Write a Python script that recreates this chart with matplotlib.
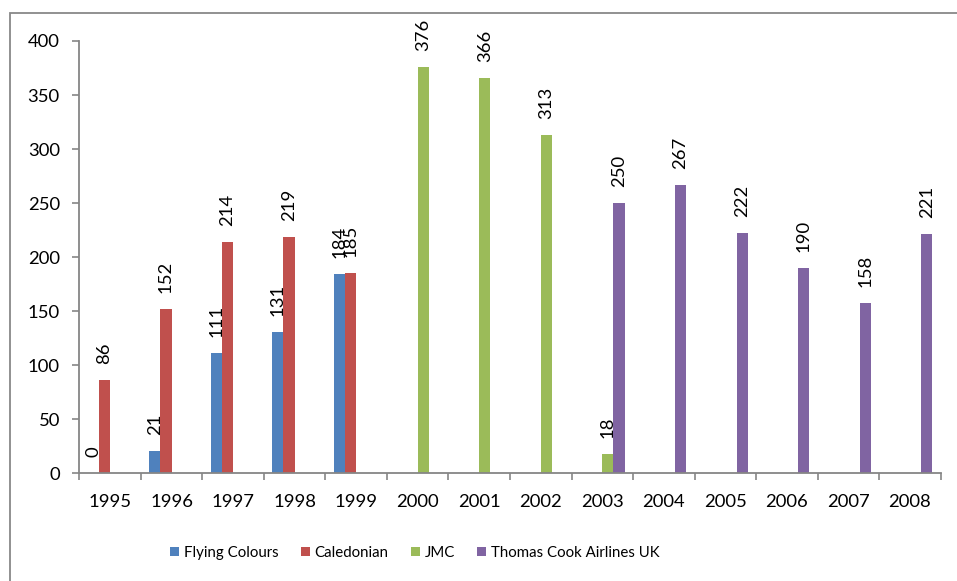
import numpy as np
import matplotlib
matplotlib.use("Agg")
import matplotlib.pyplot as plt
from matplotlib.patches import Rectangle, Patch

plt.rcParams['font.family'] = ['Lato', 'DejaVu Sans']

years = ['1995', '1996', '1997', '1998', '1999', '2000', '2001',
         '2002', '2003', '2004', '2005', '2006', '2007', '2008']
series_names = ['Flying Colours', 'Caledonian', 'JMC', 'Thomas Cook Airlines UK']
nan = np.nan
flying_colours = [0, 21, 111, 131, 184, nan, nan, nan, nan, nan, nan, nan, nan, nan]
caledonian = [86, 152, 214, 219, 185, nan, nan, nan, nan, nan, nan, nan, nan, nan]
jmc = [nan, nan, nan, nan, nan, 376, 366, 313, 18, nan, nan, nan, nan, nan]
thomas_cook = [nan, nan, nan, nan, nan, nan, nan, nan, 250, 267, 222, 190, 158, 221]
colors = ['#4F81BD', '#C0504D', '#9BBB59', '#8064A2']

W, H = 957, 581
fig = plt.figure(figsize=(W / 100, H / 100), dpi=100)
ax = fig.add_axes([79.3 / W, 1 - 473.3 / H, (940.7 - 79.3) / W, (473.3 - 41) / H])

x = np.arange(len(years))
bw = 1 / 5.5
all_series = [flying_colours, caledonian, jmc, thomas_cook]
label_color = '#000000'
for i, (vals, name, c) in enumerate(zip(all_series, series_names, colors)):
    vals = np.array(vals, dtype=float)
    pos = x + (i - 1.5) * bw
    ax.bar(pos, vals, width=bw, color=c, edgecolor='none', label=name)
    for px, v in zip(pos, vals):
        if np.isnan(v):
            continue
        ax.annotate(f'{int(v)}', xy=(px, v), xytext=(0, 16), textcoords='offset pixels',
                    rotation=90, ha='center', va='bottom', fontsize=13.3, color=label_color)

ax.set_xlim(-0.5, len(years) - 0.5)
ax.set_ylim(0, 400)
ax.set_yticks(np.arange(0, 401, 50))

# Category boundaries carry tick marks, centres carry year labels
ax.set_xticks(np.arange(-0.5, len(years)), labels=[''] * (len(years) + 1))
ax.set_xticks(x, labels=years, minor=True)
ax.tick_params(axis='x', which='major', direction='out', length=5, width=1.2, color='#868686')
ax.tick_params(axis='x', which='minor', length=0, pad=15, labelsize=13.3)
ax.tick_params(axis='y', direction='out', length=5, width=1.2, color='#868686', pad=9,
               labelsize=13.3)

for s in ['top', 'right']:
    ax.spines[s].set_visible(False)
for s in ['left', 'bottom']:
    ax.spines[s].set_color('#868686')
    ax.spines[s].set_linewidth(1.3)

handles = [Patch(facecolor=c, edgecolor='none') for c in colors]
fig.legend(handles, series_names, loc='center', bbox_to_anchor=(415 / W, 1 - 553 / H),
           ncol=4, frameon=False, fontsize=10.8, handlelength=0.6, handleheight=0.6,
           handletextpad=0.3, columnspacing=1.5)

# Chart-area border
fig.add_artist(Rectangle((9.5 / W, -0.05), 1.2, 1 - 12.7 / H + 0.05,
                         transform=fig.transFigure, fill=False, edgecolor='#888888',
                         linewidth=1.3, clip_on=False))

fig.savefig('out.png', dpi=100)
